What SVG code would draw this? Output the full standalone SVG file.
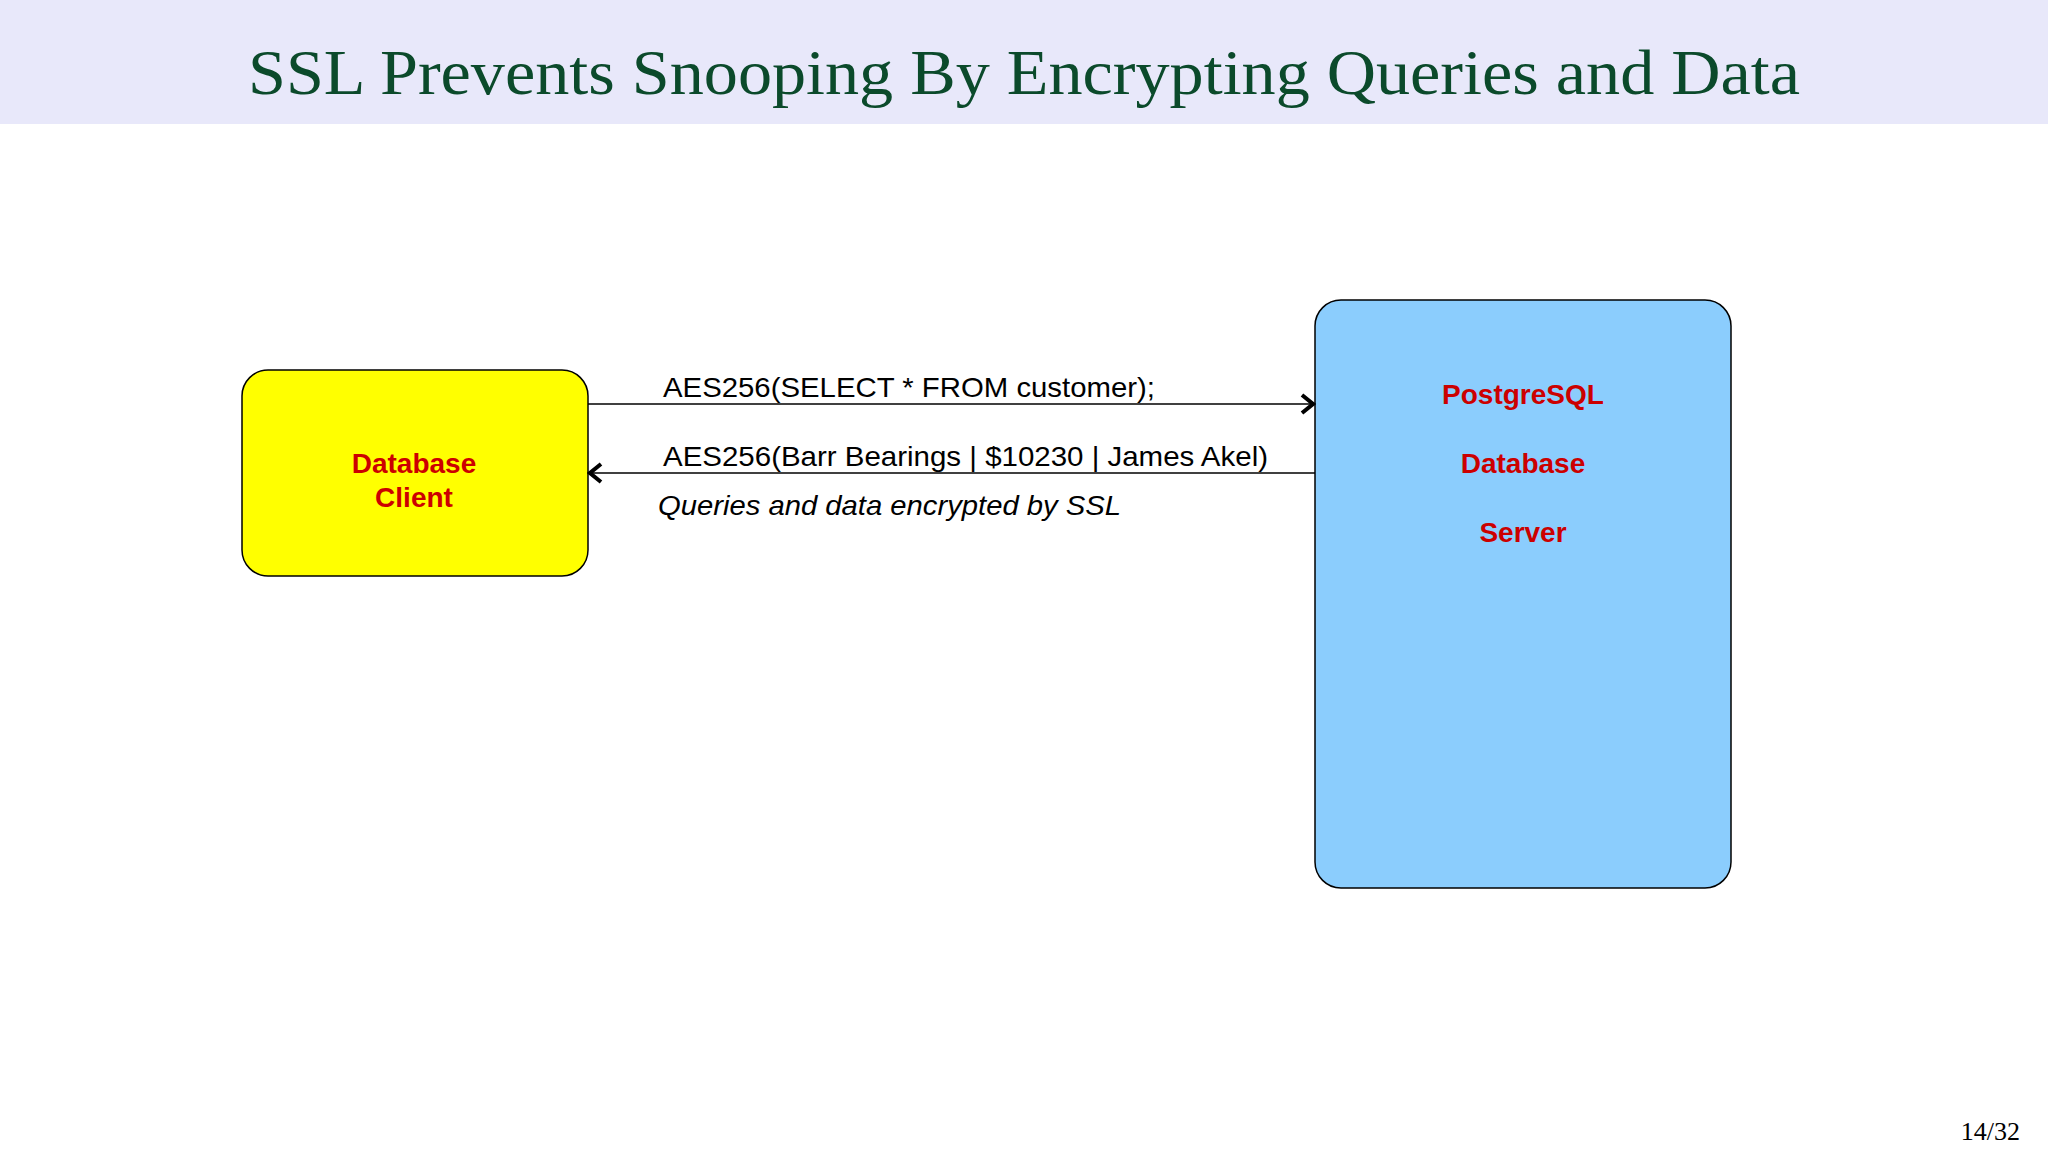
<svg xmlns="http://www.w3.org/2000/svg" width="2048" height="1152" viewBox="0 0 2048 1152">
<style>
.lbl{font-family:"Liberation Sans",Arial,sans-serif;font-size:28px;fill:#000}
.node{font-family:"Liberation Sans",Arial,sans-serif;font-size:28px;font-weight:bold;fill:#cc0000;text-anchor:middle}
.ln{stroke:#000;stroke-width:1.5;fill:none}
</style>
<defs>
<marker id="ah" viewBox="0 0 12 12" refX="11" refY="6" markerWidth="12" markerHeight="12" markerUnits="userSpaceOnUse" orient="auto">
<path d="M2,1 L11,6 L2,11" fill="none" stroke="#000" stroke-width="3"/>
</marker>
<marker id="ahbig" viewBox="0 0 24 24" refX="22" refY="12" markerWidth="24" markerHeight="24" markerUnits="userSpaceOnUse" orient="auto">
<path d="M10,3 L21,12 L10,21" fill="none" stroke="#000" stroke-width="4"/>
</marker>
</defs>
<rect x="0" y="0" width="2048" height="124" fill="#e8e8fa"/>
<text x="1024" y="94" text-anchor="middle" font-family="Liberation Serif,serif" font-size="64" fill="#0b4a2b" textLength="1552" lengthAdjust="spacingAndGlyphs">SSL Prevents Snooping By Encrypting Queries and Data</text>
<g id="client">
<rect x="242" y="370" width="346" height="206" rx="26" fill="#ffff00" stroke="#000" stroke-width="1.5"/>
<text class="node" x="414" y="473">Database</text>
<text class="node" x="414" y="507">Client</text>
</g>
<g id="server">
<rect x="1315" y="300" width="416" height="588" rx="26" fill="#8bcdfd" stroke="#000" stroke-width="1.5"/>
<text class="node" x="1523" y="404">PostgreSQL</text>
<text class="node" x="1523" y="473">Database</text>
<text class="node" x="1523" y="542">Server</text>
</g>
<g id="connectors">
<line class="ln" x1="588" y1="404" x2="1314" y2="404" marker-end="url(#ahbig)"/>
<line class="ln" x1="1315" y1="473" x2="589" y2="473" marker-end="url(#ahbig)"/>
<text class="lbl" x="663" y="397" textLength="492" lengthAdjust="spacingAndGlyphs">AES256(SELECT * FROM customer);</text>
<text class="lbl" x="663" y="466" textLength="605" lengthAdjust="spacingAndGlyphs">AES256(Barr Bearings | $10230 | James Akel)</text>
<text class="lbl" x="658" y="515" font-style="italic" textLength="463" lengthAdjust="spacingAndGlyphs">Queries and data encrypted by SSL</text>
</g>
<text x="2020" y="1140" text-anchor="end" font-family="Liberation Serif,serif" font-size="26" fill="#000">14/32</text>
</svg>
